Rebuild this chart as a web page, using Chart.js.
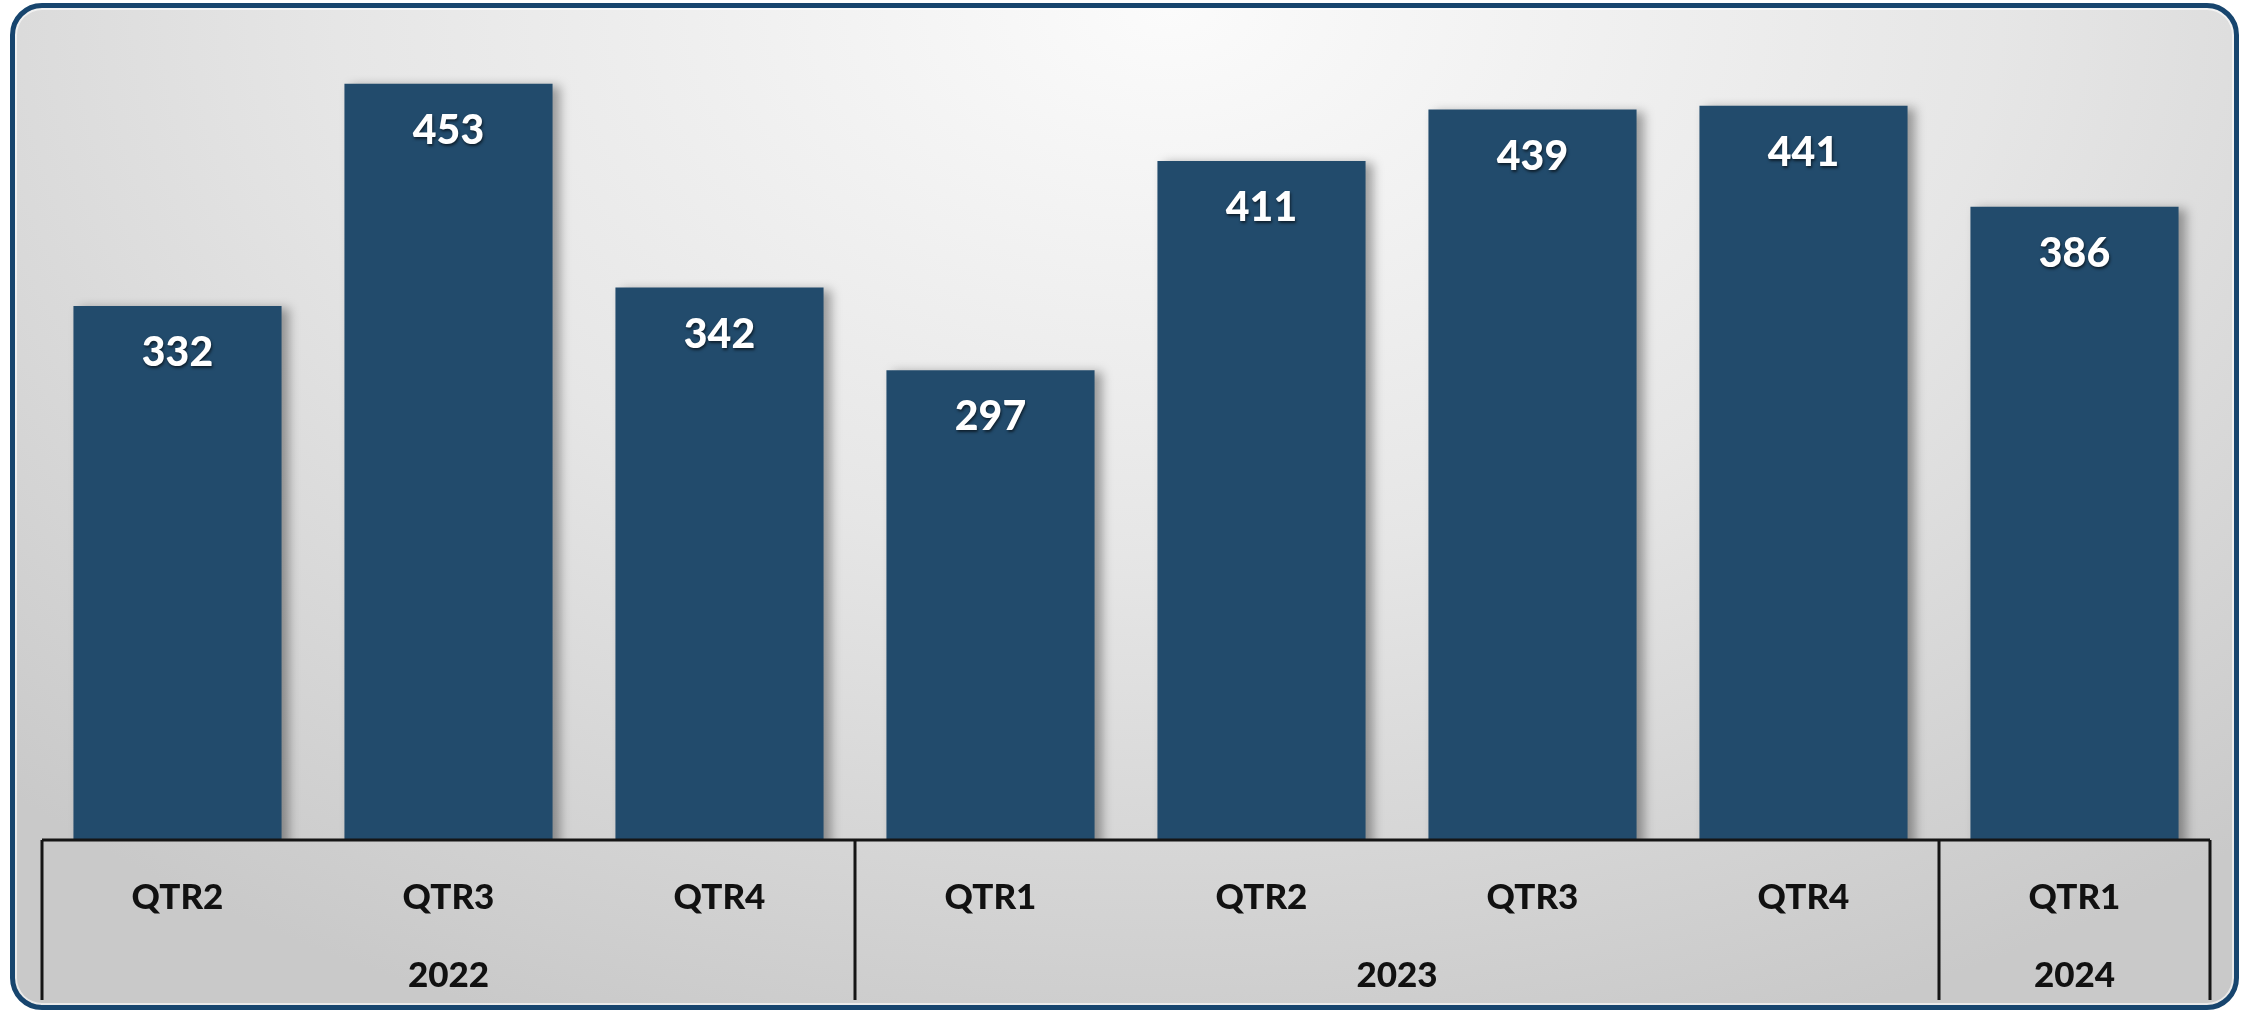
<!DOCTYPE html>
<html>
<head>
<meta charset="utf-8">
<script src="https://cdn.jsdelivr.net/npm/chart.js@4.4.0/dist/chart.umd.min.js"></script>
<style>
  html, body { margin: 0; padding: 0; background: #ffffff; }
  #frame {
    position: absolute; left: 10px; top: 3px; width: 2229px; height: 1007px;
    box-sizing: border-box;
    border: 5px solid #17456e; border-radius: 32px;
    background: radial-gradient(ellipse 75% 110% at 52% 0%, #fbfbfb 0%, #e6e6e6 50%, #c9c9c9 100%);
    box-shadow: inset 0 0 0 2px rgba(255,255,255,0.6);
  }
  #chart2 { position: absolute; left: 0; top: 0; }
</style>
</head>
<body>
<div id="frame"></div>
<canvas id="chart2" width="2247" height="1013"></canvas>
<script>
const quarters = ['QTR2', 'QTR3', 'QTR4', 'QTR1', 'QTR2', 'QTR3', 'QTR4', 'QTR1'];
const years = ['2022', '2023', '2024'];
const yearSizes = [3, 4, 1];
const values = [332, 453, 342, 297, 411, 439, 441, 386];

// bar shadows
const barShadow = {
  id: 'barShadow',
  beforeDatasetDraw(chart) {
    const ctx = chart.ctx;
    ctx.save();
    ctx.shadowColor = 'rgba(0,0,0,0.35)';
    ctx.shadowBlur = 10;
    ctx.shadowOffsetX = 7;
    ctx.shadowOffsetY = 2;
  },
  afterDatasetDraw(chart) {
    chart.ctx.restore();
  }
};

// white numbers inside bars
const valueLabels = {
  id: 'valueLabels',
  afterDatasetsDraw(chart) {
    const ctx = chart.ctx;
    const meta = chart.getDatasetMeta(0);
    ctx.save();
    ctx.font = '900 41px Lato';
    ctx.textAlign = 'center';
    ctx.textBaseline = 'middle';
    ctx.fillStyle = '#ffffff';
    ctx.shadowColor = 'rgba(0,0,0,0.6)';
    ctx.shadowBlur = 3;
    ctx.shadowOffsetX = 1;
    ctx.shadowOffsetY = 2;
    meta.data.forEach((bar, i) => {
      ctx.fillText(String(values[i]), bar.x, bar.y + 47);
    });
    ctx.restore();
  }
};

// two level category axis drawn from the x scale
const groupAxis = {
  id: 'groupAxis',
  afterDraw(chart) {
    const ctx = chart.ctx;
    const x = chart.scales.x;
    const area = chart.chartArea;
    const half = (x.getPixelForValue(1) - x.getPixelForValue(0)) / 2;
    const base = area.bottom;
    ctx.save();
    ctx.strokeStyle = '#151515';
    ctx.lineWidth = 3;
    ctx.beginPath();
    ctx.moveTo(area.left, base);
    ctx.lineTo(area.right, base);
    ctx.stroke();

    ctx.fillStyle = '#111111';
    ctx.font = '900 35px Lato';
    ctx.textAlign = 'center';
    ctx.textBaseline = 'middle';
    quarters.forEach((q, i) => {
      ctx.fillText(q, x.getPixelForValue(i), base + 58);
    });

    let start = 0;
    const edges = [x.getPixelForValue(0) - half];
    yearSizes.forEach((n, j) => {
      const l = x.getPixelForValue(start) - half;
      const r = x.getPixelForValue(start + n - 1) + half;
      ctx.fillText(years[j], (l + r) / 2, base + 136);
      edges.push(r);
      start += n;
    });
    ctx.beginPath();
    edges.forEach(e => {
      ctx.moveTo(e, base);
      ctx.lineTo(e, base + 160);
    });
    ctx.stroke();
    ctx.restore();
  }
};

const ctx = document.getElementById('chart2');
const chart = new Chart(ctx, {
  type: 'bar',
  data: {
    labels: quarters,
    datasets: [{
      data: values,
      backgroundColor: '#224b6c',
      borderWidth: 0,
      categoryPercentage: 1,
      barPercentage: 0.768
    }]
  },
  options: {
    responsive: false,
    animation: false,
    layout: { padding: { left: 42, right: 37, top: 71, bottom: 173 } },
    plugins: { legend: { display: false }, tooltip: { enabled: false } },
    scales: {
      x: { display: false },
      y: { display: false, min: 41, max: 460 }
    }
  },
  plugins: [barShadow, valueLabels, groupAxis]
});
</script>
</body>
</html>
